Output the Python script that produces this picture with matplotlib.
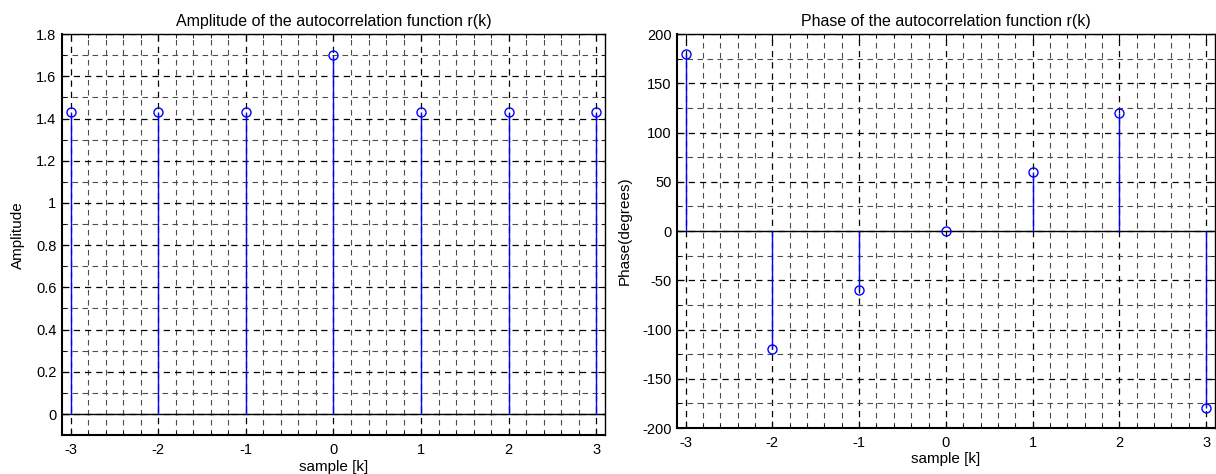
import matplotlib
matplotlib.use("Agg")
import matplotlib.pyplot as plt
from matplotlib.ticker import MultipleLocator, FixedLocator

plt.rcParams['font.family'] = ['Liberation Sans', 'DejaVu Sans']
plt.rcParams['axes.unicode_minus'] = False

k = [-3, -2, -1, 0, 1, 2, 3]
amplitude = [1.43, 1.43, 1.43, 1.70, 1.43, 1.43, 1.43]
phase = [180, -120, -60, 0, 60, 120, -180]

amp_ticks = [0, 0.2, 0.4, 0.6, 0.8, 1, 1.2, 1.4, 1.6, 1.8]
amp_labels = ['0', '0.2', '0.4', '0.6', '0.8', '1', '1.2', '1.4', '1.6', '1.8']
ph_ticks = [-200, -150, -100, -50, 0, 50, 100, 150, 200]
x_ticks = [-3, -2, -1, 0, 1, 2, 3]

fig = plt.figure(figsize=(12.16, 4.74), dpi=100)
ax1 = fig.add_axes([0.051, 0.082, 0.4465, 0.846])
ax2 = fig.add_axes([0.5567, 0.097, 0.4423, 0.831])


def style(ax, ymin):
    ax.set_axisbelow(True)
    ax.xaxis.set_major_locator(FixedLocator(x_ticks))
    ax.xaxis.set_minor_locator(MultipleLocator(0.2))
    ax.yaxis.set_minor_locator(MultipleLocator(ymin))
    ax.grid(True, which='major', color='black', linestyle=(0, (5, 4)), linewidth=0.9)
    ax.grid(True, which='minor', color='0.3', linestyle=(0, (5, 4)), linewidth=0.8)
    ax.tick_params(which='both', direction='in', top=True, right=True, labelsize=10.5)
    ax.tick_params(which='major', length=5)
    ax.tick_params(which='minor', length=3)
    ax.tick_params(axis='x', which='major', pad=6)
    ax.tick_params(axis='y', which='major', pad=4)
    for s in ax.spines.values():
        s.set_linewidth(1.0)
        s.set_color('black')
    ax.spines['left'].set_linewidth(1.5)
    ax.spines['bottom'].set_linewidth(1.5)


def draw_stem(ax, x, y):
    ml, sl, bl = ax.stem(x, y, linefmt='b-', markerfmt='bo', basefmt=' ')
    plt.setp(sl, linewidth=1.0, color='blue')
    plt.setp(ml, markersize=6.5, markerfacecolor='none', markeredgecolor='blue', markeredgewidth=1.0)
    ax.axhline(0, color='black', linewidth=1.0, zorder=1.5)


draw_stem(ax1, k, amplitude)
style(ax1, 0.1)
ax1.set_xlim(-3.1, 3.1)
ax1.set_ylim(-0.1, 1.8)
ax1.yaxis.set_major_locator(FixedLocator(amp_ticks))
ax1.set_yticklabels(amp_labels)
ax1.set_title('Amplitude of the autocorrelation function r(k)', fontsize=11.5, pad=6)
ax1.set_xlabel('sample [k]', fontsize=11, labelpad=1.5)
ax1.set_ylabel('Amplitude', fontsize=11, labelpad=8)

draw_stem(ax2, k, phase)
style(ax2, 25)
ax2.set_xlim(-3.1, 3.1)
ax2.set_ylim(-200, 200)
ax2.yaxis.set_major_locator(FixedLocator(ph_ticks))
ax2.set_title('Phase of the autocorrelation function r(k)', fontsize=11.5, pad=6)
ax2.set_xlabel('sample [k]', fontsize=11, labelpad=1)
ax2.set_ylabel('Phase(degrees)', fontsize=11, labelpad=7)

fig.savefig('out.png', dpi=100)
